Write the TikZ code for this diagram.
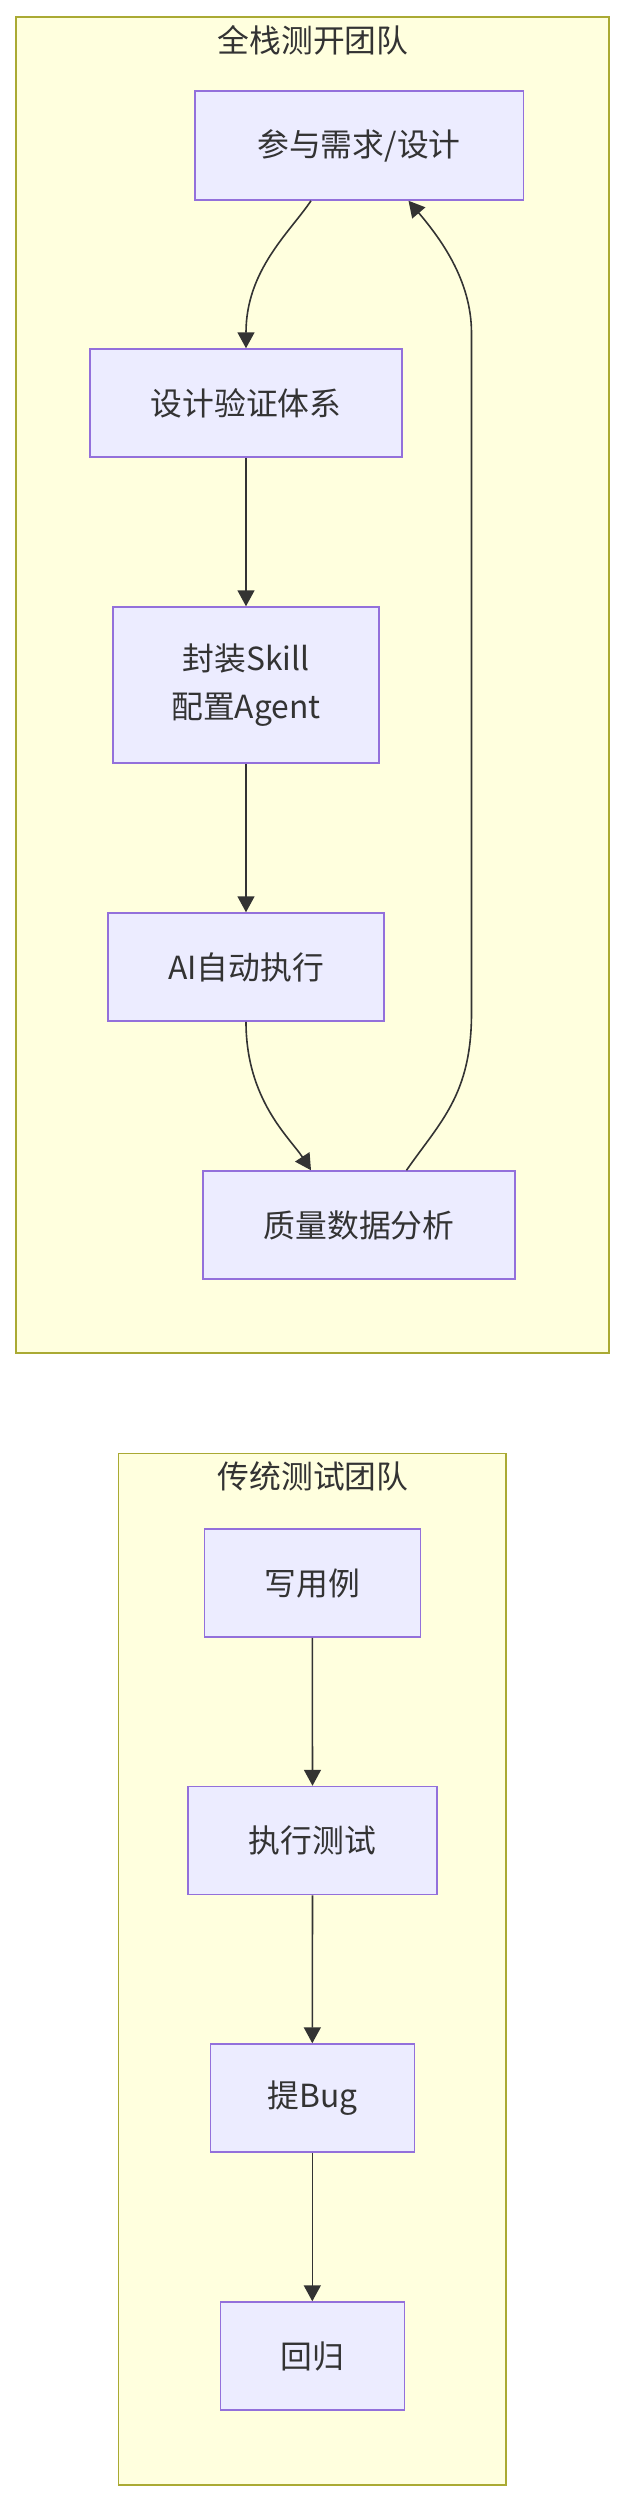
\documentclass[tikz,border=0pt]{standalone}
\usepackage{fontspec}
\setmainfont{Noto Sans CJK SC}
\usetikzlibrary{arrows.meta,calc}
\definecolor{clfill}{HTML}{FFFFDE}
\definecolor{clstroke}{HTML}{AAAA33}
\definecolor{ndfill}{HTML}{ECECFF}
\definecolor{ndstroke}{HTML}{9370DB}
\definecolor{txt}{HTML}{333333}
\definecolor{edge}{HTML}{333333}
\begin{document}
\begin{tikzpicture}[x=0.5pt,y=-0.5pt,
 cluster/.style={draw=clstroke,fill=clfill,line width=0.8pt},
 box/.style={draw=ndstroke,fill=ndfill,line width=0.75pt,inner sep=0pt,font=\fontsize{15.9pt}{24pt}\selectfont,text=txt,align=center},
 title/.style={font=\fontsize{15.9pt}{18pt}\selectfont,text=txt,inner sep=0pt},
 arr/.style={draw=edge,line width=0.8pt,-{Triangle[width=8.5pt,length=8pt]}}]
\useasboundingbox[fill=white] (0,0) rectangle (625,2502);
% clusters
\draw[cluster] (16,16.7) rectangle (609,1353);
\node[title] (t1) at (313,40) {全栈测开团队};
\draw[cluster] (118.4,1453.6) rectangle (506,2485);
\node[title] (t2) at (313,1476.5) {传统测试团队};
% full-stack nodes
\node[box,minimum width=164.25pt,minimum height=54.5pt] (A) at (359,145.5) {参与需求/设计};
\node[box,minimum width=156pt,minimum height=54pt] (B) at (246,403) {设计验证体系};
\node[box,minimum width=133pt,minimum height=78pt] (C) at (246,685) {封装Skill\\配置Agent};
\node[box,minimum width=138pt,minimum height=54pt] (D) at (246,967) {AI自动执行};
\node[box,minimum width=156pt,minimum height=54pt] (E) at (359,1225) {质量数据分析};
% traditional nodes
\node[box,minimum width=108pt,minimum height=54pt] (F) at (312.3,1583) {写用例};
\node[box,minimum width=124.5pt,minimum height=54pt] (G) at (312.5,1840.5) {执行测试};
\node[box,minimum width=102pt,minimum height=54pt] (H) at (312.3,2098) {提Bug};
\node[box,minimum width=92pt,minimum height=54pt] (I) at (312.3,2356) {回归};
% edges
\draw[arr] ($(A.south)+(-48,0)$) .. controls (290,232) and (246,270) .. (B.north);
\draw[arr] (B.south) -- (C.north);
\draw[arr] (C.south) -- (D.north);
\draw[arr] (D.south) .. controls (246,1100) and (290,1138) .. ($(E.north)+(-48,0)$);
\draw[arr] ($(E.north)+(47.5,0)$) .. controls (440,1122) and (471.5,1095) .. (471.5,1013)
  -- (471.5,333) .. controls (471.5,280) and (440,238) .. ($(A.south)+(49.5,0)$);
\draw[arr] (F.south) -- (G.north);
\draw[arr] (G.south) -- (H.north);
\draw[arr] (H.south) -- (I.north);
\end{tikzpicture}
\end{document}
